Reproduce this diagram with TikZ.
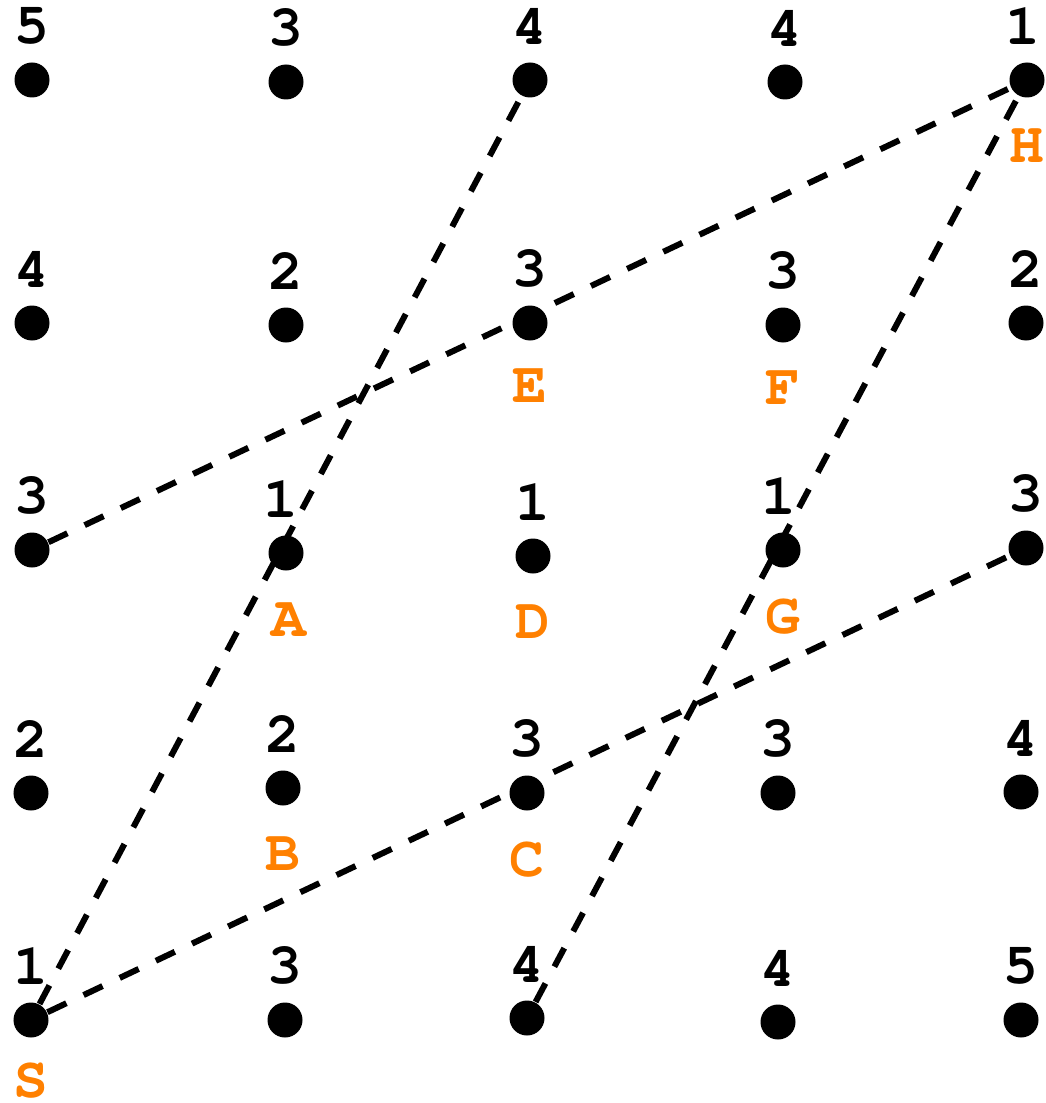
\documentclass[tikz,border=0pt]{standalone}
\usepackage{fontspec}
\setmonofont{TeX Gyre Cursor}
\usepackage{xcolor}
\definecolor{tagorange}{RGB}{255, 128, 0}
\usetikzlibrary{positioning}

\begin{document}
\begin{tikzpicture}[
    node distance=0.17cm,
    every node/.style={inner sep=0pt, font=\ttfamily\bfseries\fontsize{16.5}{18}\selectfont},
    dot/.style={circle, fill=black, minimum size=0.35cm},
    num/.style={text=black},
    tag/.style={text=tagorange},
    route/.style={line width=0.06cm, dash pattern=on 0.21cm off 0.19cm}
]
\useasboundingbox (0,0) rectangle (10.46,-11.03);

% Dots
\node[dot] (p11) at (0.32,-0.80) {};
\node[dot] (p12) at (2.86,-0.82) {};
\node[dot] (p13) at (5.30,-0.80) {};
\node[dot] (p14) at (7.85,-0.82) {};
\node[dot] (h)   at (10.27,-0.80) {};
\node[dot] (p21) at (0.32,-3.23) {};
\node[dot] (p22) at (2.86,-3.25) {};
\node[dot] (e)   at (5.30,-3.23) {};
\node[dot] (f)   at (7.83,-3.25) {};
\node[dot] (p25) at (10.26,-3.23) {};
\node[dot] (p31) at (0.32,-5.50) {};
\node[dot] (a)   at (2.86,-5.53) {};
\node[dot] (d)   at (5.33,-5.56) {};
\node[dot] (g)   at (7.83,-5.50) {};
\node[dot] (p35) at (10.26,-5.48) {};
\node[dot] (p41) at (0.31,-7.93) {};
\node[dot] (b)   at (2.83,-7.88) {};
\node[dot] (c)   at (5.27,-7.93) {};
\node[dot] (p44) at (7.78,-7.93) {};
\node[dot] (p45) at (10.21,-7.92) {};
\node[dot] (s)   at (0.31,-10.20) {};
\node[dot] (p52) at (2.85,-10.20) {};
\node[dot] (p53) at (5.27,-10.18) {};
\node[dot] (p54) at (7.78,-10.22) {};
\node[dot] (p55) at (10.21,-10.20) {};

% Numbers
\node[num, above=of p11] (n11) {5};
\node[num, above=of p12] (n12) {3};
\node[num, above=of p13] (n13) {4};
\node[num, above=of p14] (n14) {4};
\node[num, above=of h, xshift=-0.04cm] (n15) {1};
\node[num, above=of p21] (n21) {4};
\node[num, above=of p22] (n22) {2};
\node[num, above=of e]   (n23) {3};
\node[num, above=of f]   (n24) {3};
\node[num, above=of p25] (n25) {2};
\node[num, above=of p31] (n31) {3};
\node[num, above=of a, xshift=-0.05cm] (n32) {1};
\node[num, above=of d]   (n33) {1};
\node[num, above=of g, xshift=-0.04cm] (n34) {1};
\node[num, above=of p35] (n35) {3};
\node[num, above=of p41] (n41) {2};
\node[num, above=of b]   (n42) {2};
\node[num, above=of c]   (n43) {3};
\node[num, above=of p44] (n44) {3};
\node[num, above=of p45] (n45) {4};
\node[num, above=of s]   (n51) {1};
\node[num, above=of p52] (n52) {3};
\node[num, above=of p53] (n53) {4};
\node[num, above=of p54] (n54) {4};
\node[num, above=of p55] (n55) {5};

% Letters
\node[tag, below=0.3cm of h] (th) {H};
\node[tag, below=0.27cm of e] (te) {E};
\node[tag, below=0.27cm of f] (tf) {F};
\node[tag, below=0.31cm of a, xshift=0.03cm] (ta) {A};
\node[tag, below=0.3cm of d] (td) {D};
\node[tag, below=0.3cm of g] (tg) {G};
\node[tag, below=0.3cm of b] (tb) {B};
\node[tag, below=0.3cm of c] (tc) {C};
\node[tag, below=0.24cm of s] (ts) {S};

% Routes
\draw[route] (s) -- (p13);
\draw[route] (s) -- (p35);
\draw[route] (p31) -- (h);
\draw[route] (p53) -- (h);

\end{tikzpicture}
\end{document}
